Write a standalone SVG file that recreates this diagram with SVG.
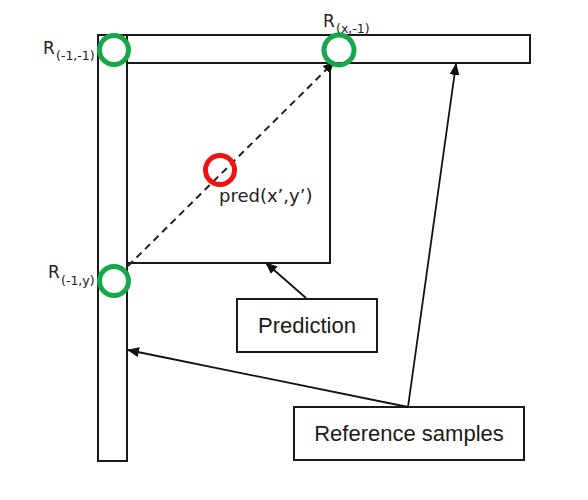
<svg xmlns="http://www.w3.org/2000/svg" width="588" height="500" viewBox="0 0 588 500">
<defs>
<style>
.box{fill:#fff;stroke:#1a1a1a;stroke-width:2}
.ln{stroke:#111;stroke-width:1.8;fill:none}
.dash{stroke:#222;stroke-width:2;stroke-dasharray:7,5;fill:none}
.gc{fill:none;stroke:#16a84a;stroke-width:5}
.rc{fill:none;stroke:#ee1414;stroke-width:5}
.lbl{font-family:"DejaVu Sans",sans-serif;fill:#222}
.big{font-family:"Liberation Sans",Arial,sans-serif;font-size:22px;fill:#1a1a1a}
</style>
<marker id="ah" markerUnits="userSpaceOnUse" markerWidth="12" markerHeight="10" refX="11" refY="5" orient="auto" viewBox="0 0 12 10">
<path d="M0,0 L12,5 L0,10 z" fill="#111"/>
</marker>
</defs>
<g id="left-bar"><rect class="box" x="98" y="35" width="29" height="426"/></g>
<g id="top-bar"><rect class="box" x="127" y="35" width="403" height="28"/></g>
<g id="pred-block"><rect class="box" x="127" y="63" width="203" height="200"/></g>
<g id="prediction"><rect class="box" x="237" y="299" width="140" height="53"/><text class="big" x="307" y="333" text-anchor="middle">Prediction</text></g>
<g id="reference-samples"><rect class="box" x="294" y="407" width="230" height="53"/><text class="big" x="409" y="441" text-anchor="middle">Reference samples</text></g>
<g id="connectors">
<line class="dash" x1="128" y1="266" x2="334" y2="62" marker-end="url(#ah)"/>
<line class="ln" x1="306" y1="298" x2="266" y2="263" marker-end="url(#ah)"/>
<line class="ln" x1="408" y1="407" x2="128" y2="350" marker-end="url(#ah)"/>
<line class="ln" x1="408" y1="407" x2="456" y2="64" marker-end="url(#ah)"/>
</g>
<g id="r-m1-m1"><circle class="gc" cx="114" cy="50" r="14.5"/><text class="lbl" x="43" y="54" font-size="17">R<tspan x="56" y="60" font-size="12.5">(-1,-1)</tspan></text></g>
<g id="r-x-m1"><circle class="gc" cx="339" cy="50" r="15"/><text class="lbl" x="323" y="27" font-size="17">R<tspan x="336" y="33" font-size="12.5">(x,-1)</tspan></text></g>
<g id="r-m1-y"><circle class="gc" cx="114" cy="281" r="14.5"/><text class="lbl" x="48" y="278" font-size="17">R<tspan x="61" y="285" font-size="12.5">(-1,y)</tspan></text></g>
<g id="pred-point"><circle class="rc" cx="220" cy="170" r="14.5"/><text class="lbl" x="219" y="202" font-size="18">pred(x’,y’)</text></g>
</svg>
